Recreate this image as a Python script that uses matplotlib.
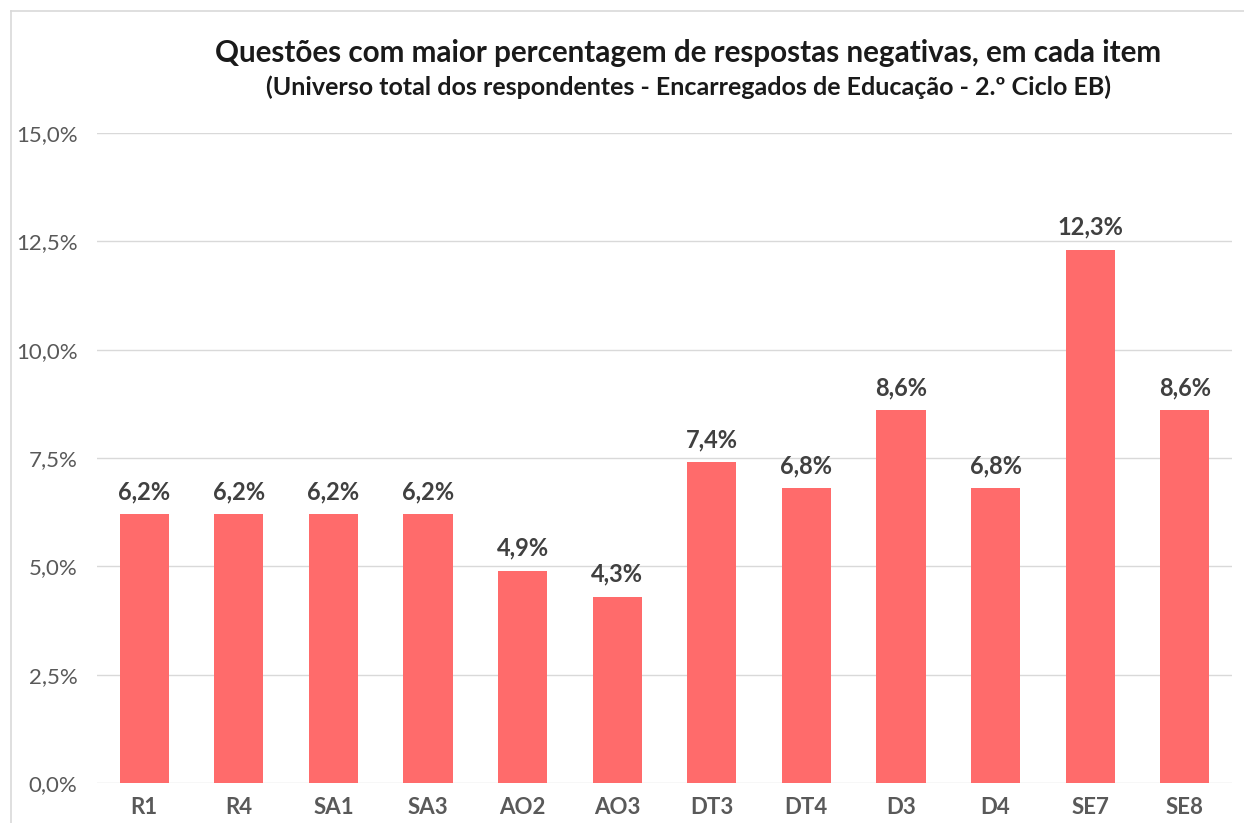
import matplotlib
matplotlib.use("Agg")
import matplotlib.pyplot as plt
from matplotlib.lines import Line2D

categories = ["R1", "R4", "SA1", "SA3", "AO2", "AO3", "DT3", "DT4", "D3", "D4", "SE7", "SE8"]
values = [6.2, 6.2, 6.2, 6.2, 4.9, 4.3, 7.4, 6.8, 8.6, 6.8, 12.3, 8.6]
yticks = [0, 2.5, 5.0, 7.5, 10.0, 12.5, 15.0]
title = "Questões com maior percentagem de respostas negativas, em cada item"
subtitle = "(Universo total dos respondentes - Encarregados de Educação - 2.º Ciclo EB)"

plt.rcParams['font.family'] = ['Lato', 'DejaVu Sans']

W, H = 1244, 823
fig = plt.figure(figsize=(W / 100, H / 100), dpi=100)
ax = fig.add_axes([97 / W, 40 / H, (1232 - 97) / W, (783 - 133) / H])

x = list(range(len(categories)))
ax.bar(x, values, width=0.52, color="#FF6B6B", zorder=3)
ax.set_xlim(-0.5, len(categories) - 0.5)
ax.set_ylim(0, 15)
ax.set_yticks(yticks)
ax.set_yticklabels([f"{v:.1f}%".replace(".", ",") for v in yticks],
                   fontsize=16, color="#595959")
ax.set_xticks(x)
ax.set_xticklabels(categories, fontsize=16, color="#595959", fontweight="bold")
ax.tick_params(axis="both", length=0)
ax.tick_params(axis="y", pad=14)
ax.tick_params(axis="x", pad=10)
ax.grid(axis="y", color="#d9d9d9", linewidth=1, zorder=0)
for s in ax.spines.values():
    s.set_visible(False)

for xi, v in zip(x, values):
    ax.annotate(f"{v:.1f}%".replace(".", ","), (xi, v), xytext=(0, 11),
                textcoords="offset points", ha="center", va="baseline",
                fontsize=17, fontweight="bold", color="#404040")

fig.text(688 / W, 1 - 53 / H, title, ha="center", va="center",
         fontsize=21.3, fontweight="bold", color="#1a1a1a")
fig.text(688 / W, 1 - 87 / H, subtitle, ha="center", va="center",
         fontsize=18, fontweight="bold", color="#1a1a1a")

# chart border
fig.add_artist(Line2D([11 / W, 1], [1 - 11 / H, 1 - 11 / H], color="#d9d9d9",
                      linewidth=1.2, transform=fig.transFigure))
fig.add_artist(Line2D([11 / W, 11 / W], [0, 1 - 11 / H], color="#d9d9d9",
                      linewidth=1.2, transform=fig.transFigure))

fig.savefig("out.png", dpi=100)
